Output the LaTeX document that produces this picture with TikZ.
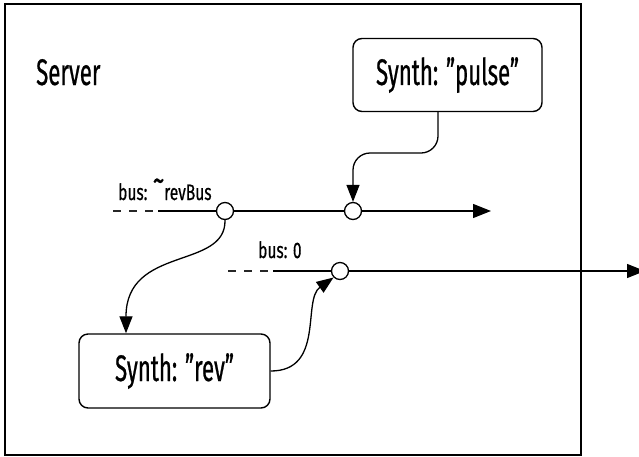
\documentclass[tikz,border=0pt]{standalone}
\usepackage{graphicx}
\usepackage{fontspec}
\setmainfont{Fira Sans}[FakeStretch=0.6, FakeBold=0.6]
\newfontfamily\labelfont{Fira Sans}[FakeStretch=0.69, FakeBold=0.5]
\usetikzlibrary{arrows.meta}
\tikzset{
  synthbox/.style={draw, line width=1.4pt, rounded corners=9pt, fill=white, font=\fontsize{37}{42}\selectfont, inner sep=0pt},
  busnode/.style={circle, draw, line width=1.3pt, fill=white, minimum size=17pt, inner sep=0pt},
  buslabel/.style={anchor=base west, inner sep=0pt, font=\labelfont\fontsize{22.5}{26}\selectfont},
  busline/.style={line width=1.2pt},
  busdash/.style={line width=1.8pt, dash pattern=on 8pt off 8pt, black!85},
  arr/.style={line width=1.3pt, -{Triangle[length=17pt,width=13pt]}},
}
\begin{document}
\begin{tikzpicture}[x=1pt,y=-1pt]
\useasboundingbox (0,0) rectangle (639,456);
\draw[line width=1.8pt] (5,4) rectangle (581,455);
\node[anchor=base west, inner sep=0pt, font=\fontsize{37}{42}\selectfont] (server) at (36,85) {Server};
% synth boxes
\node[synthbox, minimum width=189pt, minimum height=73pt] (pulse) at (447.5,75) {Synth: "pulse"};
\node[synthbox, minimum width=191pt, minimum height=74pt] (rev) at (174.5,371) {Synth: "rev"};
% buses
\coordinate (b1start) at (113,211);
\coordinate (b1solid) at (158,211);
\coordinate (b1dashend) at (403,211);
\coordinate (b1end) at (491,211);
\coordinate (b2start) at (228,271);
\coordinate (b2solid) at (273,271);
\coordinate (b2dashend) at (518,271);
\coordinate (b2end) at (645,271);
\draw[busdash] (b1start) -- (b1dashend);
\draw[busline, -{Triangle[length=18pt,width=14pt]}] (b1solid) -- (b1end);
\draw[busdash] (b2start) -- (b2dashend);
\draw[busline, -{Triangle[length=18pt,width=14pt]}] (b2solid) -- (b2end);
\node[buslabel] (l1) at (118,200) {bus: \raisebox{0.38em}{\scalebox{1.5}{\textasciitilde}}revBus};
\node[buslabel] (l2) at (258,258) {bus: 0};
\node[busnode] (c1) at (225,211) {};
\node[busnode] (c2) at (353,211) {};
\node[busnode] (c3) at (340,271) {};
% connectors
\coordinate (k1) at (353,153);
\draw[arr, rounded corners=17pt] ([xshift=-9.5pt]pulse.south) |- (k1) -- (c2.north);
\draw[arr] (c1.south) .. controls (226,270) and (126,245) .. ([xshift=-48.5pt]rev.north);
\draw[arr] (rev.east) .. controls (325,371) and (302,300) .. (c3.south west);
\end{tikzpicture}
\end{document}
